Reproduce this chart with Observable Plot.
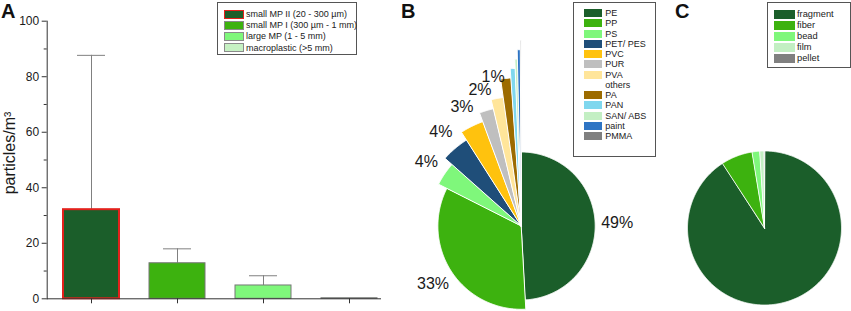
<!DOCTYPE html>
<html><head><meta charset="utf-8">
<script src="https://cdn.jsdelivr.net/npm/d3@7"></script>
<script src="https://cdn.jsdelivr.net/npm/@observablehq/plot@0.6"></script>
<style>
body{margin:0;background:#fff;}
#wrap{position:relative;width:851px;height:311px;overflow:hidden;font-family:"Liberation Sans",Arial,sans-serif;color:#1a1a1a;}
#wrap svg{position:absolute;left:0;top:0;}
.panel{position:absolute;font-weight:bold;font-size:20px;line-height:20px;color:#111;}
.legend{position:absolute;border:1px solid #555;background:#fff;box-sizing:border-box;}
.sw{position:absolute;box-sizing:border-box;}
.lt{position:absolute;white-space:nowrap;line-height:10px;color:#222;}
</style></head><body><div id="wrap"></div>
<script>
// ---- Panel A data ----
const sizeClasses = ["small MP II (20 - 300 µm)", "small MP I (300 µm - 1 mm)", "large MP (1 - 5 mm)", "macroplastic (>5 mm)"];
const concentration = [32.1, 12.8, 4.8, 0.2];
const errorUpper = [87.7, 18.0, 8.3, null];
const sizeColors = ["#1b5e2a", "#3db20f", "#7ff77b", "#c6f1c3"];
const yTicks = [0, 20, 40, 60, 80, 100];
const yMinorTicks = [10, 30, 50, 70, 90];

// ---- Panel B data ----
const polymers = ["PE", "PP", "PS", "PET/ PES", "PVC", "PUR", "PVA", "others", "PA", "PAN", "SAN/ ABS", "paint", "PMMA"];
const polymerShare = [49.0, 33.25, 4.1, 4.4, 3.4, 1.9, 1.5, 0, 1.1, 0.5, 0.25, 0.28, 0.08];
const polymerLabels = ["49%", "33%", "4%", "4%", "3%", "2%", "1%", "", "", "", "", "", ""];
const polymerColors = ["#1b5e2a", "#3db20f", "#7ff77b", "#1f4e79", "#ffc20e", "#bfbfbf", "#ffe59a", null, "#9c6b00", "#7fd7ee", "#c3efc3", "#2e74c4", "#808080"];

// ---- Panel C data ----
const shapes = ["fragment", "fiber", "bead", "film", "pellet"];
const shapeShare = [90.8, 6.6, 1.6, 0.9, 0.1];
const shapeColors = ["#1b5e2a", "#3db20f", "#7ff77b", "#c3efc3", "#808080"];

const wrap = document.getElementById("wrap");
const font = '"Liberation Sans", Arial, sans-serif';
const baseStyle = {background: "transparent", fontFamily: font, color: "#1a1a1a", overflow: "visible"};

// ---------- Panel A ----------
const barData = sizeClasses.map((c, i) => ({cat: c, value: concentration[i], upper: errorUpper[i], fill: sizeColors[i], stroke: i === 0 ? "#e3211c" : "#777777", sw: i === 0 ? 2 : 1}));
const errData = barData.filter(d => d.upper != null);
const plotA = Plot.plot({
  width: 851, height: 311,
  marginLeft: 46.7, marginRight: 471, marginTop: 20.7, marginBottom: 12.7,
  style: {...baseStyle, fontSize: "12px"},
  x: {type: "band", domain: sizeClasses, range: [46.7, 392.7], paddingInner: 0.353, paddingOuter: 0.177, axis: null},
  y: {domain: [0, 100], axis: null},
  color: {type: "identity"},
  marks: [
    Plot.ruleX(errData, {x: "cat", y1: "value", y2: "upper", stroke: "#808080", strokeWidth: 1}),
    Plot.tickY(errData, {x: "cat", y: "upper", insetLeft: 14, insetRight: 14, stroke: "#808080", strokeWidth: 1}),
    Plot.barY(barData, {x: "cat", y: "value", fill: "fill", stroke: "stroke", strokeWidth: "sw"}),
    Plot.frame({anchor: "left", stroke: "#333"}),
    Plot.frame({anchor: "bottom", stroke: "#333"}),
    Plot.axisY(yTicks, {tickSize: 5, tickPadding: 3, fontSize: 12, label: null, stroke: "#333"}),
    Plot.axisY(yMinorTicks, {tickSize: 3, tickFormat: () => "", label: null, stroke: "#333"}),
    Plot.axisX(sizeClasses, {tickSize: 5, tickFormat: () => "", label: null, stroke: "#333"}),
    Plot.text(["particles/m³"], {frameAnchor: "left", textAnchor: "middle", rotate: -90, dx: -37, dy: -7, fontSize: 16, fill: "#1a1a1a"})
  ]
});
wrap.appendChild(plotA);

// ---------- pie helper ----------
function wedgePoints(arcs, radiusOf) {
  const pts = [];
  arcs.forEach((a, i) => {
    if (!(a.endAngle > a.startAngle)) return;
    const r = radiusOf(i);
    const key = a.data.name;
    pts.push({key, x: 0, y: 0, color: a.data.color});
    const n = Math.max(2, Math.ceil((a.endAngle - a.startAngle) / (Math.PI / 360)));
    for (let k = 0; k <= n; k++) {
      const t = a.startAngle + (a.endAngle - a.startAngle) * k / n;
      pts.push({key, x: r * Math.sin(t), y: r * Math.cos(t), color: a.data.color});
    }
  });
  return pts;
}

// ---------- Panel B ----------
const polyData = polymers.map((p, i) => ({name: p, share: polymerShare[i], label: polymerLabels[i], color: polymerColors[i]}));
const arcsB = d3.pie().sort(null).value(d => d.share)(polyData);
const radiusB = i => 74 + 9.3 * i;
const ptsB = wedgePoints(arcsB, radiusB);
const labelsB = arcsB.map((a, i) => {
  const m = (a.startAngle + a.endAngle) / 2, r = radiusB(i) + 22;
  return {text: a.data.label, x: r * Math.sin(m), y: r * Math.cos(m)};
}).filter(d => d.text);
const plotB = Plot.plot({
  width: 851, height: 311, margin: 0,
  style: baseStyle,
  x: {domain: [-520.7, 330.3], axis: null},
  y: {domain: [-85.5, 225.5], axis: null},
  color: {type: "identity"},
  marks: [
    Plot.line(ptsB, {x: "x", y: "y", z: "key", fill: "color", stroke: "#ffffff", strokeWidth: 1, curve: "linear-closed", strokeLinejoin: "miter"}),
    Plot.text(labelsB, {x: "x", y: "y", text: "text", fontSize: 16, fill: "#1a1a1a"})
  ]
});
wrap.appendChild(plotB);

// ---------- Panel C ----------
const shapeData = shapes.map((s, i) => ({name: s, share: shapeShare[i], color: shapeColors[i]}));
const arcsC = d3.pie().sort(null).value(d => d.share)(shapeData);
const ptsC = wedgePoints(arcsC, () => 77);
const plotC = Plot.plot({
  width: 851, height: 311, margin: 0,
  style: baseStyle,
  x: {domain: [-764, 87], axis: null},
  y: {domain: [-83.5, 227.5], axis: null},
  color: {type: "identity"},
  marks: [
    Plot.line(ptsC, {x: "x", y: "y", z: "key", fill: "color", stroke: "#ffffff", strokeWidth: 0.8, curve: "linear-closed", strokeLinejoin: "miter"})
  ]
});
wrap.appendChild(plotC);

// ---------- legends & panel letters ----------
function legend(box, names, colors, opt) {
  const div = document.createElement("div");
  div.className = "legend";
  Object.assign(div.style, {left: box[0] + "px", top: box[1] + "px", width: box[2] + "px", height: box[3] + "px"});
  names.forEach((n, i) => {
    const cy = opt.first + opt.pitch * i - box[1];
    if (colors[i]) {
      const sw = document.createElement("div");
      sw.className = "sw";
      Object.assign(sw.style, {left: (opt.swx - box[0]) + "px", top: (cy - opt.sh / 2) + "px", width: opt.sw + "px", height: opt.sh + "px", background: colors[i]});
      if (opt.border) sw.style.border = opt.border(i);
      div.appendChild(sw);
    }
    const t = document.createElement("div");
    t.className = "lt";
    t.textContent = n;
    Object.assign(t.style, {left: (opt.tx - box[0]) + "px", top: (cy - 5) + "px", fontSize: opt.fs + "px"});
    div.appendChild(t);
  });
  wrap.appendChild(div);
}
legend([216.7, 1.7, 140, 53.3], sizeClasses, sizeColors, {first: 13.3, pitch: 11.1, swx: 222.7, sw: 20, sh: 9.5, tx: 245, fs: 9, border: i => i === 0 ? "1.5px solid #e3211c" : "1px solid #8a8a8a"});
legend([573.3, 1.7, 82.7, 155], polymers, polymerColors, {first: 12.2, pitch: 10.25, swx: 582.7, sw: 18, sh: 8, tx: 604.3, fs: 9});
legend([766.7, 1.7, 84, 66.6], shapes, shapeColors, {first: 13.3, pitch: 11.05, swx: 773.3, sw: 20.7, sh: 8.5, tx: 796, fs: 9.3});

[["A", 1], ["B", 401], ["C", 675]].forEach(([l, x]) => {
  const d = document.createElement("div");
  d.className = "panel";
  d.textContent = l;
  Object.assign(d.style, {left: x + "px", top: "1px"});
  wrap.appendChild(d);
});
</script></body></html>
